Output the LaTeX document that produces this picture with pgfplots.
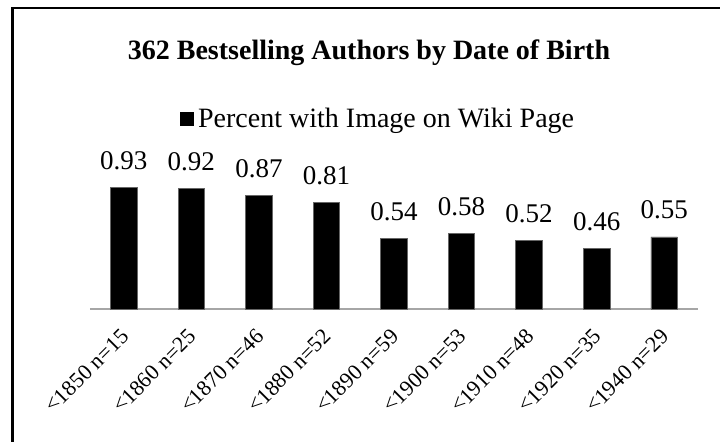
\documentclass[border=0pt]{standalone}
\usepackage{pgfplots}
\pgfplotsset{compat=1.18}
\usepackage{fontspec}
\setmainfont{Liberation Serif}

\begin{document}
\begin{tikzpicture}
\begin{axis}[
  at={(45pt,66.5pt)}, anchor=south west,
  scale only axis, width=304pt, height=65.5pt,
  xmin=-0.5, xmax=8.5, ymin=0, ymax=1,
  axis x line=bottom, axis y line=none,
  axis line style={-, color=black!35, line width=0.7pt},
  xtick={0,1,2,3,4,5,6,7,8},
  xticklabels={{<1850 n=15},{<1860 n=25},{<1870 n=46},{<1880 n=52},{<1890 n=59},{<1900 n=53},{<1910 n=48},{<1920 n=35},{<1940 n=29}},
  major tick length=0pt,
  xticklabel style={font=\fontsize{11}{13}\selectfont, inner sep=0pt, xshift=0.6pt, yshift=-11.8pt, rotate=45, anchor=east},
  ytick=\empty,
  ybar, bar width=13.25pt,
  point meta=explicit symbolic,
  nodes near coords,
  nodes near coords style={font=\fontsize{13.5}{16}\selectfont, anchor=base, yshift=9pt, inner sep=0pt},
  legend style={draw=none, fill=none, at={(0.148,1.45)}, anchor=west, inner sep=0pt,
    font=\fontsize{14}{17}\selectfont},
  legend image code/.code={\fill[black] (0pt,-3pt) rectangle (6.5pt,3.2pt);},
  clip=false,
]
\addplot[fill=black, draw=black!60, line width=0.4pt] coordinates {
  (0,0.93) [0.93]
  (1,0.92) [0.92]
  (2,0.87) [0.87]
  (3,0.81) [0.81]
  (4,0.54) [0.54]
  (5,0.58) [0.58]
  (6,0.52) [0.52]
  (7,0.46) [0.46]
  (8,0.55) [0.55]
};
\addlegendentry{Percent with Image on Wiki Page}
\end{axis}
\node[anchor=base, font=\fontsize{14}{17}\selectfont\bfseries, inner sep=0pt] at (184.5pt,191.3pt) {362 Bestselling Authors by Date of Birth};
\draw[line width=1.3pt] (6.3pt,-20pt) |- (400pt,217pt);
\pgfresetboundingbox
\useasboundingbox (0,0) rectangle (360pt,221pt);
\end{tikzpicture}
\end{document}
